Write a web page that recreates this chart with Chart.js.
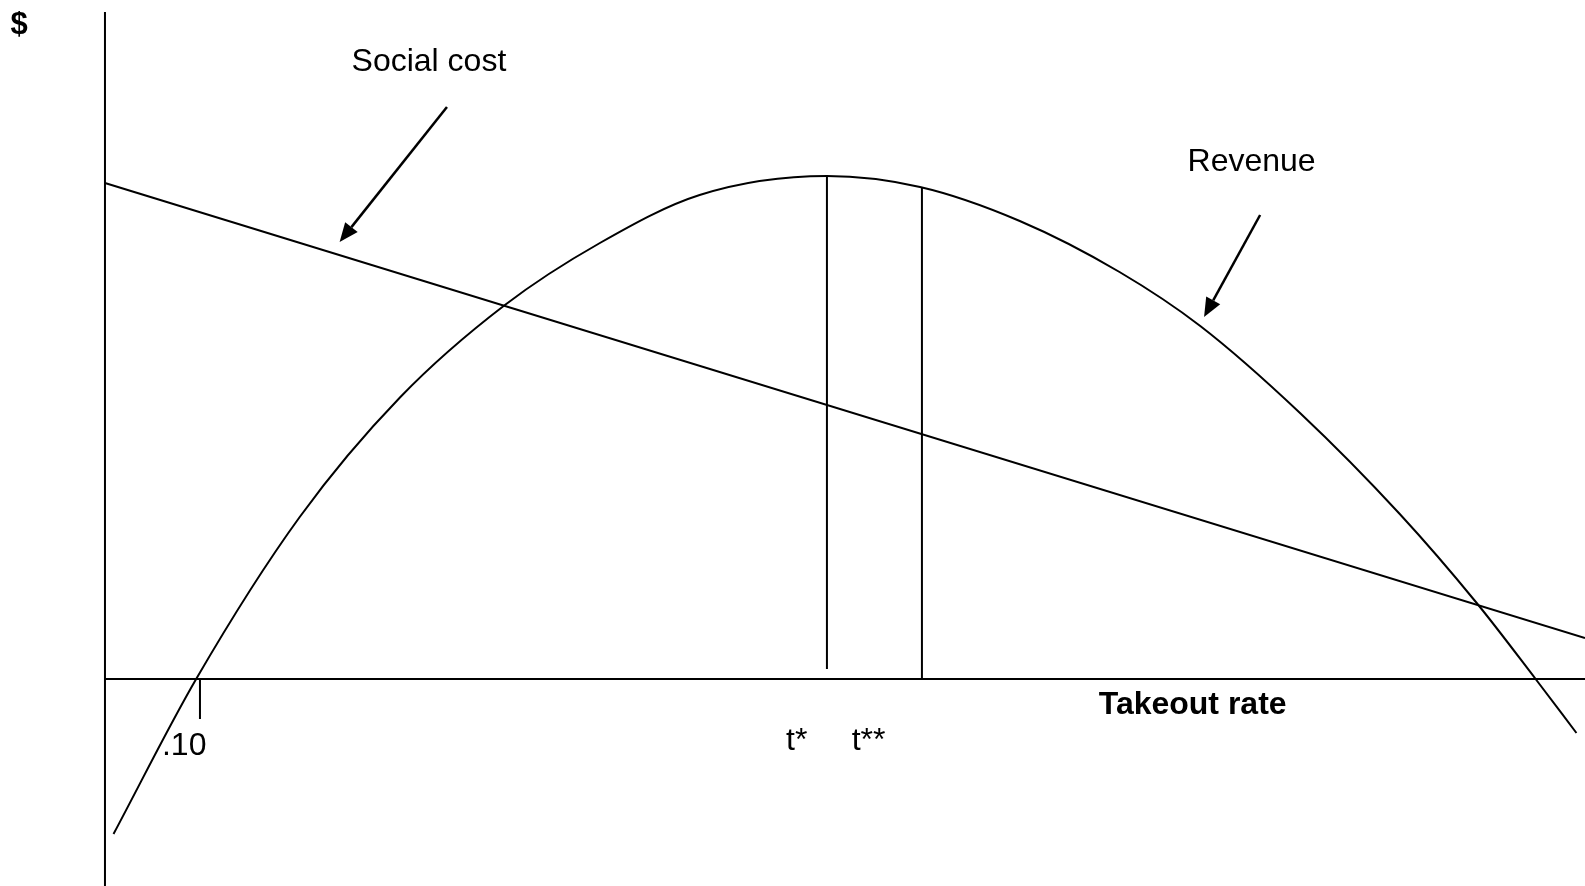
<!DOCTYPE html>
<html>
<head>
<meta charset="utf-8">
<script src="https://cdn.jsdelivr.net/npm/chart.js@4/dist/chart.umd.min.js"></script>
<style>
  html, body { margin: 0; padding: 0; background: #fff; }
  #wrap { width: 1585px; height: 886px; position: relative; }
</style>
</head>
<body>
<div id="wrap"><canvas id="chart"></canvas></div>
<script>
// takeout rate (x) and dollars (y)
const revenueX = [0.009, 0.096, 0.205, 0.311, 0.421, 0.521, 0.626, 0.760,
  0.858, 0.963, 1.068, 1.153, 1.258, 1.363, 1.444, 1.506, 1.549];
const revenueY = [-1.55, 0, 1.62, 2.82, 3.74, 4.36, 4.84, 5.03,
  4.92, 4.58, 4.07, 3.53, 2.66, 1.65, 0.76, 0, -0.54];
const socialCostX = [0, 1.558];
const socialCostY = [4.96, 0.41];

const tStar = 0.76;
const tStarStar = 0.86;
const tickValue = 0.10;

const xMin = -0.1105, xMax = 1.558;
const yMin = -2.07, yMax = 6.79;

const toPoints = (xs, ys) => xs.map((x, i) => ({ x: x, y: ys[i] }));

const labels = [
  { text: "$", x: -0.0905, y: 6.45, bold: true, size: 31, align: "center" },
  { text: "Social cost", x: 0.341, y: 6.08, bold: false, size: 32, align: "center" },
  { text: "Revenue", x: 1.207, y: 5.08, bold: false, size: 32, align: "center" },
  { text: "Takeout rate", x: 1.145, y: -0.35, bold: true, size: 32, align: "center" },
  { text: ".10", x: 0.060, y: -0.76, bold: false, size: 32, align: "left" },
  { text: "t*", x: 0.717, y: -0.71, bold: false, size: 32, align: "left" },
  { text: "t**", x: 0.786, y: -0.71, bold: false, size: 32, align: "left" }
];

const arrows = [
  { from: [0.360, 5.72], to: [0.247, 4.37] },
  { from: [1.216, 4.64], to: [1.157, 3.62] }
];

const black = "#000000";
const lineSet = (data, extra) => Object.assign({
  data: data,
  borderColor: black,
  borderWidth: 2,
  pointRadius: 0,
  fill: false,
  showLine: true
}, extra || {});

const annotate = {
  id: "annotate",
  afterDatasetsDraw(chart) {
    const ctx = chart.ctx;
    const xs = chart.scales.x, ys = chart.scales.y;
    ctx.save();
    ctx.fillStyle = black;
    ctx.strokeStyle = black;
    ctx.textBaseline = "alphabetic";
    labels.forEach((l) => {
      ctx.font = (l.bold ? "bold " : "") + l.size + 'px "Liberation Sans", Arial, sans-serif';
      ctx.textAlign = l.align;
      ctx.fillText(l.text, xs.getPixelForValue(l.x), ys.getPixelForValue(l.y));
    });
    arrows.forEach((a) => {
      const x1 = xs.getPixelForValue(a.from[0]), y1 = ys.getPixelForValue(a.from[1]);
      const x2 = xs.getPixelForValue(a.to[0]), y2 = ys.getPixelForValue(a.to[1]);
      const ang = Math.atan2(y2 - y1, x2 - x1);
      const len = 19, half = 8;
      const bx = x2 - len * Math.cos(ang), by = y2 - len * Math.sin(ang);
      ctx.lineWidth = 2.5;
      ctx.beginPath();
      ctx.moveTo(x1, y1);
      ctx.lineTo(bx, by);
      ctx.stroke();
      ctx.beginPath();
      ctx.moveTo(x2, y2);
      ctx.lineTo(bx + half * Math.sin(ang), by - half * Math.cos(ang));
      ctx.lineTo(bx - half * Math.sin(ang), by + half * Math.cos(ang));
      ctx.closePath();
      ctx.fill();
    });
    ctx.restore();
  }
};

new Chart(document.getElementById("chart"), {
  type: "scatter",
  data: {
    datasets: [
      lineSet([{ x: 0, y: 0 }, { x: xMax, y: 0 }]),
      lineSet([{ x: 0, y: 6.67 }, { x: 0, y: yMin }]),
      lineSet([{ x: tickValue, y: 0 }, { x: tickValue, y: -0.40 }]),
      lineSet(toPoints(socialCostX, socialCostY)),
      lineSet(toPoints(revenueX, revenueY), { cubicInterpolationMode: "monotone" }),
      lineSet([{ x: tStar, y: 5.03 }, { x: tStar, y: 0.10 }]),
      lineSet([{ x: tStarStar, y: 4.92 }, { x: tStarStar, y: 0 }])
    ]
  },
  options: {
    responsive: true,
    maintainAspectRatio: false,
    animation: false,
    layout: { padding: 0 },
    scales: {
      x: { type: "linear", min: xMin, max: xMax, display: false },
      y: { type: "linear", min: yMin, max: yMax, display: false }
    },
    plugins: {
      legend: { display: false },
      tooltip: { enabled: false }
    }
  },
  plugins: [annotate]
});
</script>
</body>
</html>
